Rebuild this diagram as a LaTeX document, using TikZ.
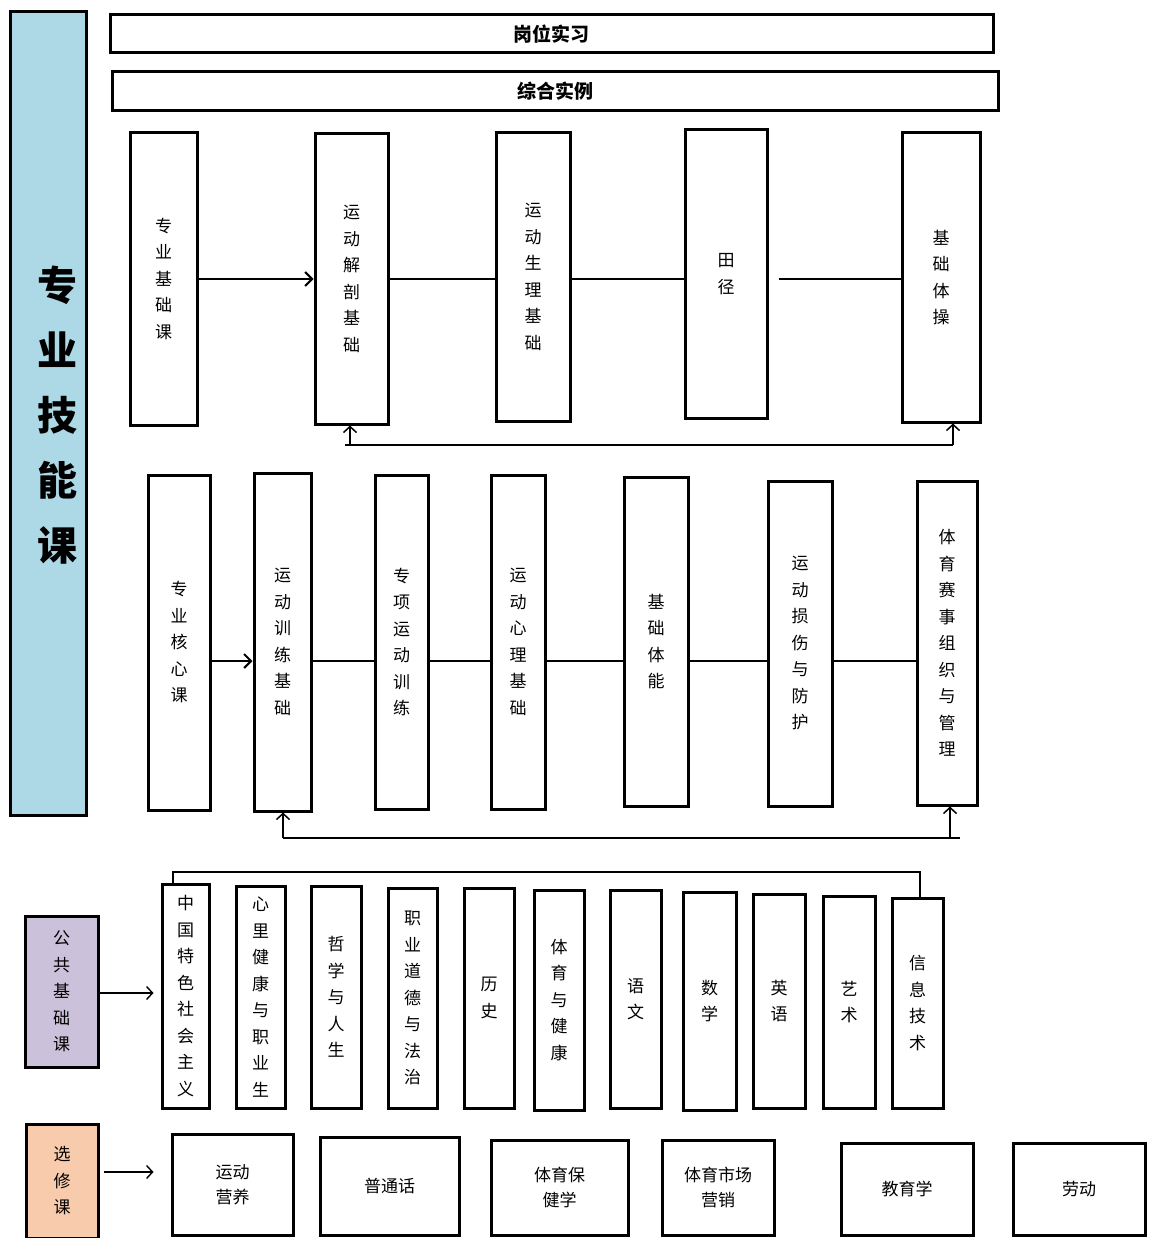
\documentclass[tikz,border=0pt]{standalone}
\usepackage{fontspec}
\newfontfamily\cjk{Noto Sans CJK SC}
\usetikzlibrary{arrows.meta}
\definecolor{skillblue}{HTML}{ADD8E6}
\definecolor{pubpurple}{HTML}{CCC1DA}
\definecolor{elecpeach}{HTML}{F8CBAD}
\tikzset{
  box/.style={draw=black, line width=3pt, fill=white, inner sep=0pt, align=center,
    font=\cjk\fontsize{17}{26.5}\selectfont},
  bar/.style={box, font=\cjk\bfseries\fontsize{19}{22}\selectfont},
  conn/.style={line width=2.5pt},
  arr/.style={line width=2.5pt, -{Straight Barb[length=7pt,width=14pt,line width=2pt]}},
  fbarr/.style={line width=2pt, -{Straight Barb[length=6pt,width=13pt,line width=1.5pt]}},
  thinarr/.style={line width=1.6pt, -{Straight Barb[length=6pt,width=13pt,line width=1.4pt]}},
}
\newcommand\mkbox[7][]{\node[box,#1,minimum width={(#5-#3)*1pt},minimum height={(#6-#4)*1pt}]
  (#2) at ({(#3+#5)/2},{(#4+#6)/2}) {#7};}
\begin{document}
\begin{tikzpicture}[x=1pt,y=-1pt]
\useasboundingbox (0,0) rectangle (1149,1238);
% left label
\mkbox[fill=skillblue]{skill}{10}{12}{86}{815}{}
\node[font=\cjk\bfseries\fontsize{40}{65}\selectfont, align=center, inner sep=0pt]
  (skilltxt) at (57,415) {专\\业\\技\\能\\课};
% top bars
\mkbox[bar]{gw}{110}{15}{993}{53}{岗位实习}
\mkbox[bar]{zh}{112}{72}{998}{111}{综合实例}
% top row
\mkbox{t1}{130}{133}{197}{425}{专\\业\\基\\础\\课}
\mkbox{t2}{315}{134}{388}{424}{运\\动\\解\\剖\\基\\础}
\mkbox{t3}{496}{133}{570}{421}{运\\动\\生\\理\\基\\础}
\mkbox{t4}{685}{130}{767}{418}{田\\径}
\mkbox{t5}{902}{133}{980}{422}{基\\础\\体\\操}
\coordinate (r1) at (0,279);
\draw[arr] (t1.east |- r1) -- (t2.west |- r1);
\draw[conn] (t2.east |- r1) -- (t3.west |- r1);
\draw[conn] (t3.east |- r1) -- (t4.west |- r1);
\draw[conn, shorten <=10pt] (t4.east |- r1) -- (t5.west |- r1);
\coordinate (fa) at (350,445);
\coordinate (fb) at (953,445);
\coordinate (fa0) at (345,445);
\draw[fbarr] (fa) -- (fa |- t2.south);
\draw[line width=2.5pt] (fa0) -- (fb);
\draw[fbarr] (fb) -- (fb |- t5.south);
% middle row
\mkbox{m1}{148}{475}{210}{810}{专\\业\\核\\心\\课}
\mkbox{m2}{254}{473}{311}{811}{运\\动\\训\\练\\基\\础}
\mkbox{m3}{375}{475}{428}{809}{专\\项\\运\\动\\训\\练}
\mkbox{m4}{491}{475}{545}{809}{运\\动\\心\\理\\基\\础}
\mkbox{m5}{624}{477}{688}{806}{基\\础\\体\\能}
\mkbox{m6}{768}{481}{832}{806}{运\\动\\损\\伤\\与\\防\\护}
\mkbox{m7}{917}{481}{977}{805}{体\\育\\赛\\事\\组\\织\\与\\管\\理}
\coordinate (r2) at (0,661);
\draw[arr] (m1.east |- r2) -- (m2.west |- r2);
\draw[conn] (m2.east |- r2) -- (m3.west |- r2);
\draw[conn] (m3.east |- r2) -- (m4.west |- r2);
\draw[conn] (m4.east |- r2) -- (m5.west |- r2);
\draw[conn] (m5.east |- r2) -- (m6.west |- r2);
\draw[conn] (m6.east |- r2) -- (m7.west |- r2);
\coordinate (ga) at (283,838);
\coordinate (gb) at (950,838);
\coordinate (ge) at (960,838);
\draw[fbarr] (ga) -- (ga |- m2.south);
\draw[line width=2.5pt] (ga) -- (ge);
\draw[fbarr] (gb) -- (gb |- m7.south);
% public courses
\mkbox[fill=pubpurple]{pub}{25}{916}{98}{1067}{公\\共\\基\\础\\课}
\mkbox{p1}{162}{884}{209}{1108}{中\\国\\特\\色\\社\\会\\主\\义}
\mkbox{p2}{236}{886}{285}{1108}{心\\里\\健\\康\\与\\职\\业\\生}
\mkbox{p3}{311}{886}{361}{1108}{哲\\学\\与\\人\\生}
\mkbox{p4}{388}{888}{437}{1108}{职\\业\\道\\德\\与\\法\\治}
\mkbox{p5}{464}{888}{514}{1108}{历\\史}
\mkbox{p6}{534}{890}{584}{1110}{体\\育\\与\\健\\康}
\mkbox{p7}{610}{890}{661}{1108}{语\\文}
\mkbox{p8}{683}{892}{736}{1110}{数\\学}
\mkbox{p9}{753}{894}{805}{1108}{英\\语}
\mkbox{p10}{823}{896}{875}{1108}{艺\\术}
\mkbox{p11}{892}{898}{943}{1108}{信\\息\\技\\术}
\coordinate (ka) at (173,872);
\coordinate (kb) at (920,872);
\draw[line width=2.5pt] (ka |- p1.north) -- (ka) -- (kb) -- (kb |- p11.north);
\coordinate (pa) at (0,993);
\draw[thinarr, shorten >=7pt] (pub.east |- pa) -- (p1.west |- pa);
% electives
\mkbox[fill=elecpeach]{ele}{26}{1124}{98}{1238}{选\\修\\课}
\tikzset{ebox/.style={font=\cjk\fontsize{17}{25}\selectfont}}
\mkbox[ebox]{e1}{172}{1134}{293}{1235}{运动\\营养}
\mkbox[ebox]{e2}{320}{1137}{459}{1235}{普通话}
\mkbox[ebox]{e3}{491}{1140}{628}{1235}{体育保\\健学}
\mkbox[ebox]{e4}{662}{1140}{774}{1235}{体育市场\\营销}
\mkbox[ebox]{e5}{841}{1143}{973}{1235}{教育学}
\mkbox[ebox]{e6}{1013}{1143}{1145}{1235}{劳动}
\coordinate (ea) at (0,1172);
\draw[thinarr, shorten <=4pt, shorten >=17pt] (ele.east |- ea) -- (e1.west |- ea);
\end{tikzpicture}
\end{document}
